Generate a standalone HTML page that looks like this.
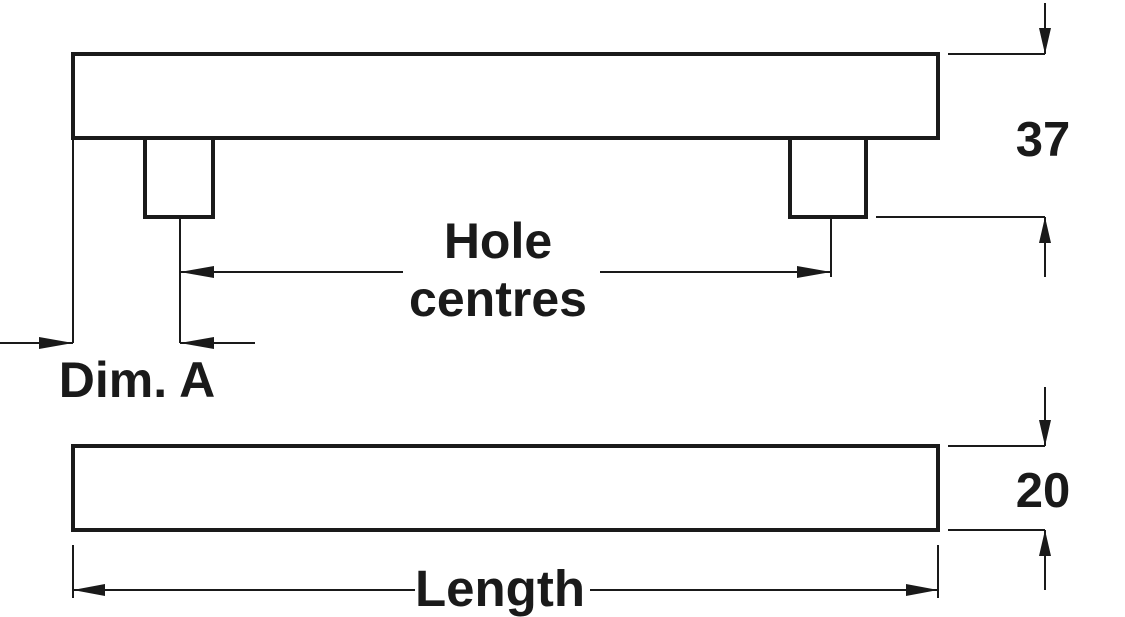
<!DOCTYPE html>
<html><head><meta charset="utf-8"><style>html,body{margin:0;padding:0;background:#fff}svg{display:block}</style></head>
<body>
<svg width="1125" height="617" viewBox="0 0 1125 617" xmlns="http://www.w3.org/2000/svg">
<g fill="none" stroke="#1a1a1a" stroke-width="4">
<rect x="73" y="54" width="865" height="84"/>
<polyline points="145,138 145,217 213,217 213,138"/>
<polyline points="790,138 790,217 866,217 866,138"/>
<rect x="73" y="446" width="865" height="84"/>
</g>
<g stroke="#1a1a1a" stroke-width="2" fill="none">
<line x1="948" y1="54" x2="1045" y2="54"/>
<line x1="1045" y1="3" x2="1045" y2="54"/>
<line x1="876" y1="217" x2="1045" y2="217"/>
<line x1="1045" y1="217" x2="1045" y2="277"/>
<line x1="948" y1="446" x2="1045" y2="446"/>
<line x1="1045" y1="387" x2="1045" y2="446"/>
<line x1="948" y1="530" x2="1045" y2="530"/>
<line x1="1045" y1="530" x2="1045" y2="590"/>
<line x1="73" y1="545" x2="73" y2="598"/>
<line x1="938" y1="545" x2="938" y2="598"/>
<line x1="73" y1="590" x2="415" y2="590"/>
<line x1="590" y1="590" x2="938" y2="590"/>
<line x1="180" y1="217" x2="180" y2="343"/>
<line x1="831" y1="217" x2="831" y2="277"/>
<line x1="180" y1="272" x2="403" y2="272"/>
<line x1="600" y1="272" x2="831" y2="272"/>
<line x1="73" y1="138" x2="73" y2="343"/>
<line x1="0" y1="343" x2="73" y2="343"/>
<line x1="180" y1="343" x2="255" y2="343"/>
</g>
<g fill="#1a1a1a">
<polygon points="1045,54 1039,28 1051,28"/>
<polygon points="1045,217 1039,243 1051,243"/>
<polygon points="1045,446 1039,420 1051,420"/>
<polygon points="1045,530 1039,556 1051,556"/>
<polygon points="73,590 105,584 105,596"/>
<polygon points="938,590 906,584 906,596"/>
<polygon points="180,272 214,266 214,278"/>
<polygon points="831,272 797,266 797,278"/>
<polygon points="73,343 39,337 39,349"/>
<polygon points="180,343 214,337 214,349"/>
</g>
<g font-family="Liberation Sans, sans-serif" font-weight="bold" fill="#1a1a1a" text-anchor="middle">
<text x="1043" y="156" font-size="49">37</text>
<text x="1043" y="507" font-size="49">20</text>
<text x="498" y="258" font-size="50">Hole</text>
<text x="498" y="316" font-size="50">centres</text>
<text x="500" y="606" font-size="51">Length</text>
<text x="137" y="397" font-size="50">Dim. A</text>
</g>
</svg>
</body></html>
